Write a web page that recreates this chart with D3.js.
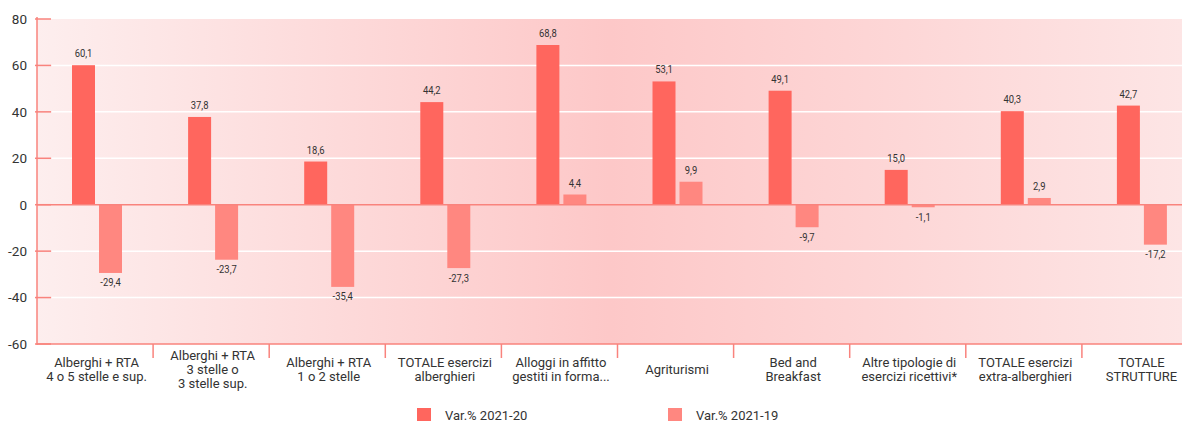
<!DOCTYPE html>
<html><head><meta charset="utf-8">
<script src="https://cdn.jsdelivr.net/npm/d3@7"></script>
<style>
html,body{margin:0;padding:0;background:#fff;}
svg{display:block;}
</style></head>
<body>
<svg id="chart" width="1182" height="421"></svg>
<script>
const categories = [
  "Alberghi + RTA\n4 o 5 stelle e sup.",
  "Alberghi + RTA\n3 stelle o\n3 stelle sup.",
  "Alberghi + RTA\n1 o 2 stelle",
  "TOTALE esercizi\nalberghieri",
  "Alloggi in affitto\ngestiti in forma...",
  "Agriturismi",
  "Bed and\nBreakfast",
  "Altre tipologie di\nesercizi ricettivi*",
  "TOTALE esercizi\nextra-alberghieri",
  "TOTALE\nSTRUTTURE"
];
const seriesNames = ["Var.% 2021-20", "Var.% 2021-19"];
const var2021_20 = [60.1, 37.8, 18.6, 44.2, 68.8, 53.1, 49.1, 15.0, 40.3, 42.7];
const var2021_19 = [-29.4, -23.7, -35.4, -27.3, 4.4, 9.9, -9.7, -1.1, 2.9, -17.2];
const yTicks = [80, 60, 40, 20, 0, -20, -40, -60];
const colors = ["#ff665e", "#ff8780"];

const svg = d3.select("#chart");
const mLeft = 37, mRight = 1198, mTop = 19, mBottom = 344;
const axisColor = "#f9837d";
const textColor = "#333333";
const font = "Roboto, 'Liberation Sans', sans-serif";

const y = d3.scaleLinear().domain([-60, 80]).range([mBottom, mTop]);
const x0 = d3.scaleBand().domain(categories).range([mLeft, mRight]).padding(0);
const x1 = d3.scaleBand().domain(seriesNames).range([35, 85]).paddingInner(4/27).paddingOuter(0);

// background gradient
const defs = svg.append("defs");
const grad = defs.append("linearGradient").attr("id", "bg").attr("x1", "0").attr("x2", "1").attr("y1", "0").attr("y2", "0");
grad.append("stop").attr("offset", "0").attr("stop-color", "#fdeeee");
grad.append("stop").attr("offset", "0.5").attr("stop-color", "#fdc8c8");
grad.append("stop").attr("offset", "1").attr("stop-color", "#fde5e5");
svg.append("rect").attr("x", mLeft).attr("y", mTop).attr("width", 1182 - mLeft).attr("height", mBottom - mTop).attr("fill", "url(#bg)");

// gridlines
svg.append("g").selectAll("line").data(yTicks.filter(d => d !== 0 && d !== -60 && d !== 80)).join("line")
  .attr("x1", 52).attr("x2", 1182).attr("y1", d => y(d)).attr("y2", d => y(d))
  .attr("stroke", "#ffffff").attr("stroke-width", 1.5);

// y ticks
svg.append("g").selectAll("line").data(yTicks).join("line")
  .attr("x1", 35).attr("x2", 51).attr("y1", d => y(d)).attr("y2", d => y(d))
  .attr("stroke", axisColor).attr("stroke-width", 1.5);
svg.append("g").selectAll("text").data(yTicks).join("text")
  .attr("x", 27).attr("y", d => y(d)).attr("dy", "0.36em").attr("text-anchor", "end")
  .attr("font-family", font).attr("font-size", 13.5).attr("fill", textColor)
  .text(d => d);

// bars
const data = categories.map((c, i) => ({cat: c, vals: [var2021_20[i], var2021_19[i]]}));
const groups = svg.append("g").selectAll("g").data(data).join("g")
  .attr("transform", d => `translate(${x0(d.cat)},0)`);
groups.selectAll("rect").data(d => d.vals.map((v, j) => ({s: seriesNames[j], v, j}))).join("rect")
  .attr("x", d => x1(d.s)).attr("width", x1.bandwidth())
  .attr("y", d => y(Math.max(0, d.v))).attr("height", d => Math.abs(y(d.v) - y(0)))
  .attr("fill", d => colors[d.j]);

// zero line
svg.append("line").attr("x1", mLeft).attr("x2", 1182).attr("y1", y(0)).attr("y2", y(0))
  .attr("stroke", axisColor).attr("stroke-width", 1.5);

// value labels (condensed look via horizontal scale)
const fmt = v => d3.format(".1f")(v).replace(".", ",").replace("−", "-");
groups.selectAll("text.val").data(d => d.vals.map((v, j) => ({s: seriesNames[j], v, j}))).join("text")
  .attr("class", "val")
  .attr("transform", d => `translate(${x1(d.s) + x1.bandwidth() / 2},${d.v >= 0 ? y(d.v) - 8 : y(d.v) + 13.5}) scale(0.82,1)`)
  .attr("text-anchor", "middle").attr("font-family", font).attr("font-size", 11.5)
  .attr("fill", textColor).text(d => fmt(d.v));

// axes lines
svg.append("line").attr("x1", mLeft).attr("x2", mLeft).attr("y1", 17).attr("y2", mBottom + 1)
  .attr("stroke", axisColor).attr("stroke-width", 1.5);
svg.append("line").attr("x1", mLeft).attr("x2", 1182).attr("y1", mBottom).attr("y2", mBottom)
  .attr("stroke", axisColor).attr("stroke-width", 1.5);
// category separators
svg.append("g").selectAll("line").data(categories.slice(1)).join("line")
  .attr("x1", d => x0(d)).attr("x2", d => x0(d)).attr("y1", mBottom).attr("y2", 358)
  .attr("stroke", axisColor).attr("stroke-width", 1.5);

// category labels
const cl = svg.append("g").selectAll("text").data(categories).join("text")
  .attr("text-anchor", "middle").attr("font-family", font).attr("font-size", 13).attr("fill", textColor);
cl.each(function(d) {
  const lines = d.split("\n");
  const cx = x0(d) + x0.bandwidth() / 2 + 1.5;
  d3.select(this).selectAll("tspan").data(lines).join("tspan")
    .attr("x", cx).attr("y", (l, i) => 374 + (i - (lines.length - 1) / 2) * 14)
    .text(l => l);
});

// legend
const legendX = [417, 668];
const lg = svg.append("g").selectAll("g").data(seriesNames).join("g")
  .attr("transform", (d, i) => `translate(${legendX[i]},0)`);
lg.append("rect").attr("x", 0).attr("y", 408).attr("width", 14).attr("height", 13).attr("fill", (d, i) => colors[i]);
lg.append("text").attr("x", 28).attr("y", 419.5).attr("font-family", font).attr("font-size", 13)
  .attr("fill", textColor).text(d => d);
</script>
</body></html>
